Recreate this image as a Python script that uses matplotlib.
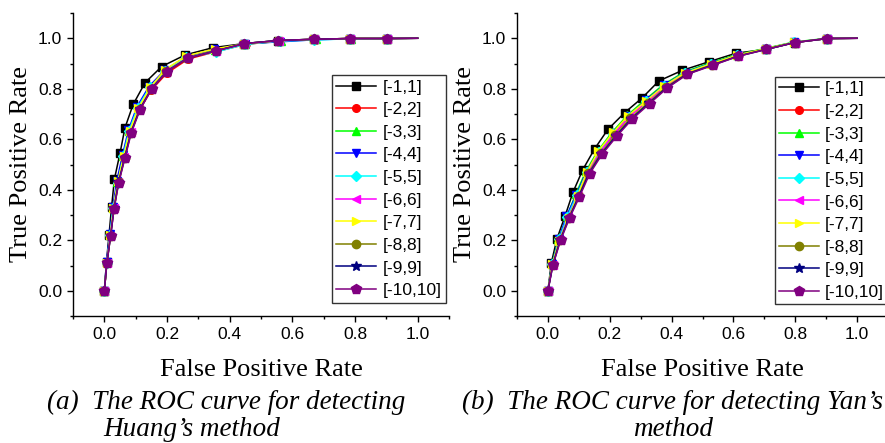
import numpy as np
import matplotlib.pyplot as plt
from matplotlib.ticker import FixedLocator

# ranges used for each curve
labels = ['[-1,1]', '[-2,2]', '[-3,3]', '[-4,4]', '[-5,5]',
          '[-6,6]', '[-7,7]', '[-8,8]', '[-9,9]', '[-10,10]']

# (a) Huang's method: false positive rate / true positive rate per range
huang_fpr = [
    [0, 0.007, 0.015, 0.023, 0.032, 0.050, 0.066, 0.092, 0.130, 0.183, 0.258, 0.348, 0.447, 0.555, 0.668, 0.783, 0.902, 1.0],
    [0, 0.008, 0.019, 0.030, 0.044, 0.063, 0.083, 0.112, 0.150, 0.200, 0.268, 0.360, 0.452, 0.560, 0.672, 0.785, 0.902, 1.0],
    [0, 0.008, 0.018, 0.029, 0.042, 0.061, 0.080, 0.108, 0.146, 0.195, 0.262, 0.352, 0.450, 0.565, 0.676, 0.786, 0.902, 1.0],
    [0, 0.007, 0.017, 0.027, 0.040, 0.058, 0.077, 0.104, 0.142, 0.192, 0.260, 0.350, 0.448, 0.560, 0.670, 0.784, 0.902, 1.0],
    [0, 0.008, 0.018, 0.028, 0.043, 0.060, 0.079, 0.106, 0.145, 0.195, 0.262, 0.355, 0.449, 0.557, 0.669, 0.784, 0.902, 1.0],
    [0, 0.008, 0.019, 0.030, 0.045, 0.064, 0.084, 0.112, 0.150, 0.198, 0.265, 0.356, 0.447, 0.556, 0.668, 0.783, 0.902, 1.0],
    [0, 0.008, 0.019, 0.029, 0.043, 0.062, 0.081, 0.109, 0.147, 0.194, 0.262, 0.353, 0.447, 0.556, 0.668, 0.783, 0.902, 1.0],
    [0, 0.008, 0.020, 0.031, 0.046, 0.065, 0.085, 0.113, 0.150, 0.198, 0.265, 0.356, 0.447, 0.555, 0.668, 0.783, 0.902, 1.0],
    [0, 0.008, 0.020, 0.031, 0.045, 0.065, 0.085, 0.113, 0.151, 0.199, 0.266, 0.357, 0.447, 0.555, 0.668, 0.783, 0.902, 1.0],
    [0, 0.008, 0.020, 0.031, 0.046, 0.066, 0.086, 0.114, 0.151, 0.199, 0.266, 0.357, 0.447, 0.555, 0.668, 0.783, 0.902, 1.0],
]
huang_tpr = [
    [0, 0.115, 0.222, 0.330, 0.441, 0.545, 0.646, 0.738, 0.824, 0.888, 0.934, 0.963, 0.979, 0.991, 0.996, 0.999, 0.999, 1.0],
    [0, 0.110, 0.219, 0.327, 0.430, 0.528, 0.627, 0.715, 0.795, 0.862, 0.918, 0.948, 0.976, 0.989, 0.995, 0.999, 0.999, 1.0],
    [0, 0.112, 0.221, 0.329, 0.432, 0.532, 0.632, 0.722, 0.803, 0.870, 0.924, 0.955, 0.977, 0.988, 0.996, 0.999, 0.999, 1.0],
    [0, 0.113, 0.223, 0.331, 0.436, 0.537, 0.637, 0.728, 0.808, 0.873, 0.926, 0.957, 0.978, 0.986, 0.994, 0.998, 0.999, 1.0],
    [0, 0.111, 0.220, 0.327, 0.425, 0.534, 0.634, 0.725, 0.806, 0.871, 0.925, 0.945, 0.976, 0.989, 0.993, 0.998, 0.999, 1.0],
    [0, 0.109, 0.218, 0.326, 0.430, 0.529, 0.628, 0.719, 0.801, 0.869, 0.922, 0.951, 0.978, 0.990, 0.996, 0.999, 0.999, 1.0],
    [0, 0.110, 0.219, 0.328, 0.433, 0.533, 0.633, 0.724, 0.806, 0.876, 0.930, 0.958, 0.978, 0.990, 0.996, 0.999, 0.999, 1.0],
    [0, 0.108, 0.217, 0.325, 0.429, 0.527, 0.626, 0.718, 0.800, 0.869, 0.922, 0.951, 0.979, 0.991, 0.996, 0.999, 0.999, 1.0],
    [0, 0.108, 0.217, 0.326, 0.429, 0.527, 0.626, 0.718, 0.800, 0.868, 0.921, 0.950, 0.979, 0.991, 0.996, 0.999, 0.999, 1.0],
    [0, 0.108, 0.217, 0.325, 0.428, 0.526, 0.625, 0.717, 0.799, 0.868, 0.921, 0.950, 0.979, 0.991, 0.996, 0.999, 0.999, 1.0],
]

# (b) Yan's method
yan_fpr = [
    [0, 0.011, 0.029, 0.056, 0.081, 0.113, 0.151, 0.194, 0.248, 0.305, 0.359, 0.435, 0.521, 0.609, 0.707, 0.798, 0.904, 1.0],
    [0, 0.014, 0.037, 0.065, 0.095, 0.128, 0.167, 0.214, 0.263, 0.320, 0.378, 0.444, 0.528, 0.612, 0.705, 0.797, 0.904, 1.0],
    [0, 0.013, 0.034, 0.062, 0.090, 0.123, 0.161, 0.207, 0.257, 0.315, 0.373, 0.440, 0.525, 0.611, 0.704, 0.796, 0.904, 1.0],
    [0, 0.013, 0.035, 0.060, 0.092, 0.125, 0.163, 0.210, 0.260, 0.317, 0.375, 0.442, 0.526, 0.612, 0.705, 0.797, 0.904, 1.0],
    [0, 0.014, 0.036, 0.063, 0.094, 0.127, 0.165, 0.212, 0.262, 0.318, 0.377, 0.443, 0.527, 0.613, 0.706, 0.797, 0.904, 1.0],
    [0, 0.015, 0.038, 0.066, 0.097, 0.129, 0.168, 0.213, 0.262, 0.320, 0.379, 0.446, 0.530, 0.614, 0.706, 0.798, 0.904, 1.0],
    [0, 0.014, 0.037, 0.067, 0.096, 0.126, 0.163, 0.211, 0.260, 0.318, 0.376, 0.443, 0.528, 0.612, 0.705, 0.797, 0.904, 1.0],
    [0, 0.015, 0.039, 0.068, 0.099, 0.131, 0.171, 0.218, 0.267, 0.325, 0.382, 0.448, 0.531, 0.615, 0.706, 0.798, 0.904, 1.0],
    [0, 0.016, 0.040, 0.069, 0.100, 0.133, 0.173, 0.221, 0.270, 0.327, 0.384, 0.450, 0.533, 0.616, 0.707, 0.798, 0.904, 1.0],
    [0, 0.016, 0.041, 0.070, 0.102, 0.135, 0.175, 0.223, 0.272, 0.329, 0.386, 0.451, 0.534, 0.616, 0.707, 0.798, 0.904, 1.0],
]
yan_tpr = [
    [0, 0.110, 0.205, 0.298, 0.390, 0.480, 0.562, 0.639, 0.705, 0.764, 0.831, 0.873, 0.907, 0.941, 0.956, 0.983, 0.999, 1.0],
    [0, 0.104, 0.203, 0.292, 0.378, 0.470, 0.548, 0.620, 0.688, 0.750, 0.810, 0.862, 0.898, 0.932, 0.958, 0.984, 0.999, 1.0],
    [0, 0.106, 0.205, 0.296, 0.383, 0.474, 0.553, 0.627, 0.695, 0.757, 0.816, 0.866, 0.903, 0.935, 0.960, 0.985, 1.0, 1.0],
    [0, 0.105, 0.204, 0.295, 0.381, 0.472, 0.550, 0.624, 0.692, 0.754, 0.813, 0.864, 0.900, 0.933, 0.959, 0.984, 0.999, 1.0],
    [0, 0.104, 0.203, 0.294, 0.379, 0.471, 0.549, 0.622, 0.690, 0.752, 0.812, 0.863, 0.899, 0.932, 0.958, 0.984, 0.999, 1.0],
    [0, 0.103, 0.202, 0.291, 0.376, 0.468, 0.548, 0.622, 0.689, 0.749, 0.808, 0.860, 0.896, 0.931, 0.957, 0.983, 0.999, 1.0],
    [0, 0.104, 0.199, 0.287, 0.376, 0.470, 0.553, 0.627, 0.694, 0.752, 0.812, 0.862, 0.899, 0.933, 0.959, 0.984, 0.999, 1.0],
    [0, 0.102, 0.201, 0.290, 0.374, 0.466, 0.544, 0.616, 0.683, 0.745, 0.806, 0.859, 0.895, 0.930, 0.957, 0.983, 0.999, 1.0],
    [0, 0.101, 0.201, 0.289, 0.373, 0.464, 0.542, 0.614, 0.681, 0.743, 0.804, 0.858, 0.894, 0.929, 0.956, 0.983, 0.999, 1.0],
    [0, 0.101, 0.200, 0.288, 0.372, 0.463, 0.540, 0.612, 0.679, 0.741, 0.803, 0.857, 0.893, 0.929, 0.956, 0.983, 0.999, 1.0],
]

colors = ['#000000', '#ff0000', '#00ff00', '#0000ff', '#00ffff',
          '#ff00ff', '#ffff00', '#808000', '#000080', '#800080']
markers = ['s', 'o', '^', 'v', 'D', '<', '>', 'o', '*', 'p']
msizes = [5.5, 5.5, 6, 6, 5, 6, 6, 6, 7, 7]

sans = 'Liberation Sans'
serif = 'Liberation Serif'

fig = plt.figure(figsize=(8.85, 4.43), dpi=100)
ax1 = fig.add_axes([73 / 885, 1 - 316 / 443, 376 / 885, 303 / 443])
ax2 = fig.add_axes([517 / 885, 1 - 316 / 443, 371 / 885, 303 / 443])


def draw(ax, fprs, tprs, leg_anchor):
    for i in range(len(labels)):
        ax.plot(fprs[i], tprs[i], color=colors[i], marker=markers[i],
                markersize=msizes[i], markevery=slice(0, -1), lw=1.1,
                label=labels[i])
    ax.set_xlim(-0.1, 1.1)
    ax.set_ylim(-0.1, 1.1)
    ticks = [0.0, 0.2, 0.4, 0.6, 0.8, 1.0]
    minors = [-0.1, 0.1, 0.3, 0.5, 0.7, 0.9, 1.1]
    ax.xaxis.set_major_locator(FixedLocator(ticks))
    ax.yaxis.set_major_locator(FixedLocator(ticks))
    ax.xaxis.set_minor_locator(FixedLocator(minors))
    ax.yaxis.set_minor_locator(FixedLocator(minors))
    ax.set_xticklabels(['%.1f' % t for t in ticks])
    ax.set_yticklabels(['%.1f' % t for t in ticks])
    for lab in ax.get_xticklabels() + ax.get_yticklabels():
        lab.set_fontfamily(sans)
        lab.set_fontsize(12.5)
    ax.tick_params(which='major', direction='out', length=4.3, width=1, pad=3.5)
    ax.tick_params(which='minor', direction='out', length=2.2, width=1)
    ax.spines['top'].set_visible(False)
    ax.spines['right'].set_visible(False)
    ax.spines['left'].set_linewidth(1)
    ax.spines['bottom'].set_linewidth(1)
    ax.set_xlabel('False Positive Rate', fontfamily=serif, fontsize=19, labelpad=12.5)
    ax.set_ylabel('True Positive Rate', fontfamily=serif, fontsize=19, labelpad=4)
    leg = ax.legend(loc='upper left', bbox_to_anchor=leg_anchor, borderaxespad=0,
                    prop={'family': sans, 'size': 12.5}, handlelength=2.3,
                    handletextpad=0.35, labelspacing=0.43, borderpad=0.25,
                    handleheight=0.7, fancybox=False, framealpha=1,
                    edgecolor='#333333')
    leg.get_frame().set_linewidth(1)


draw(ax1, huang_fpr, huang_tpr, (0.689, 0.795))
draw(ax2, yan_fpr, yan_tpr, (0.695, 0.789))

cap = dict(fontfamily=serif, fontstyle='italic', fontsize=19.5, va='baseline')
fig.text(226 / 885, 1 - 409 / 443, '(a)  The ROC curve for detecting', ha='center', **cap)
fig.text(103 / 885, 1 - 436 / 443, 'Huang\u2019s method', ha='left', **cap)
fig.text(672 / 885, 1 - 409 / 443, '(b)  The ROC curve for detecting Yan\u2019s', ha='center', **cap)
fig.text(673 / 885, 1 - 436 / 443, 'method', ha='center', **cap)

fig.savefig('out.png', dpi=100)
